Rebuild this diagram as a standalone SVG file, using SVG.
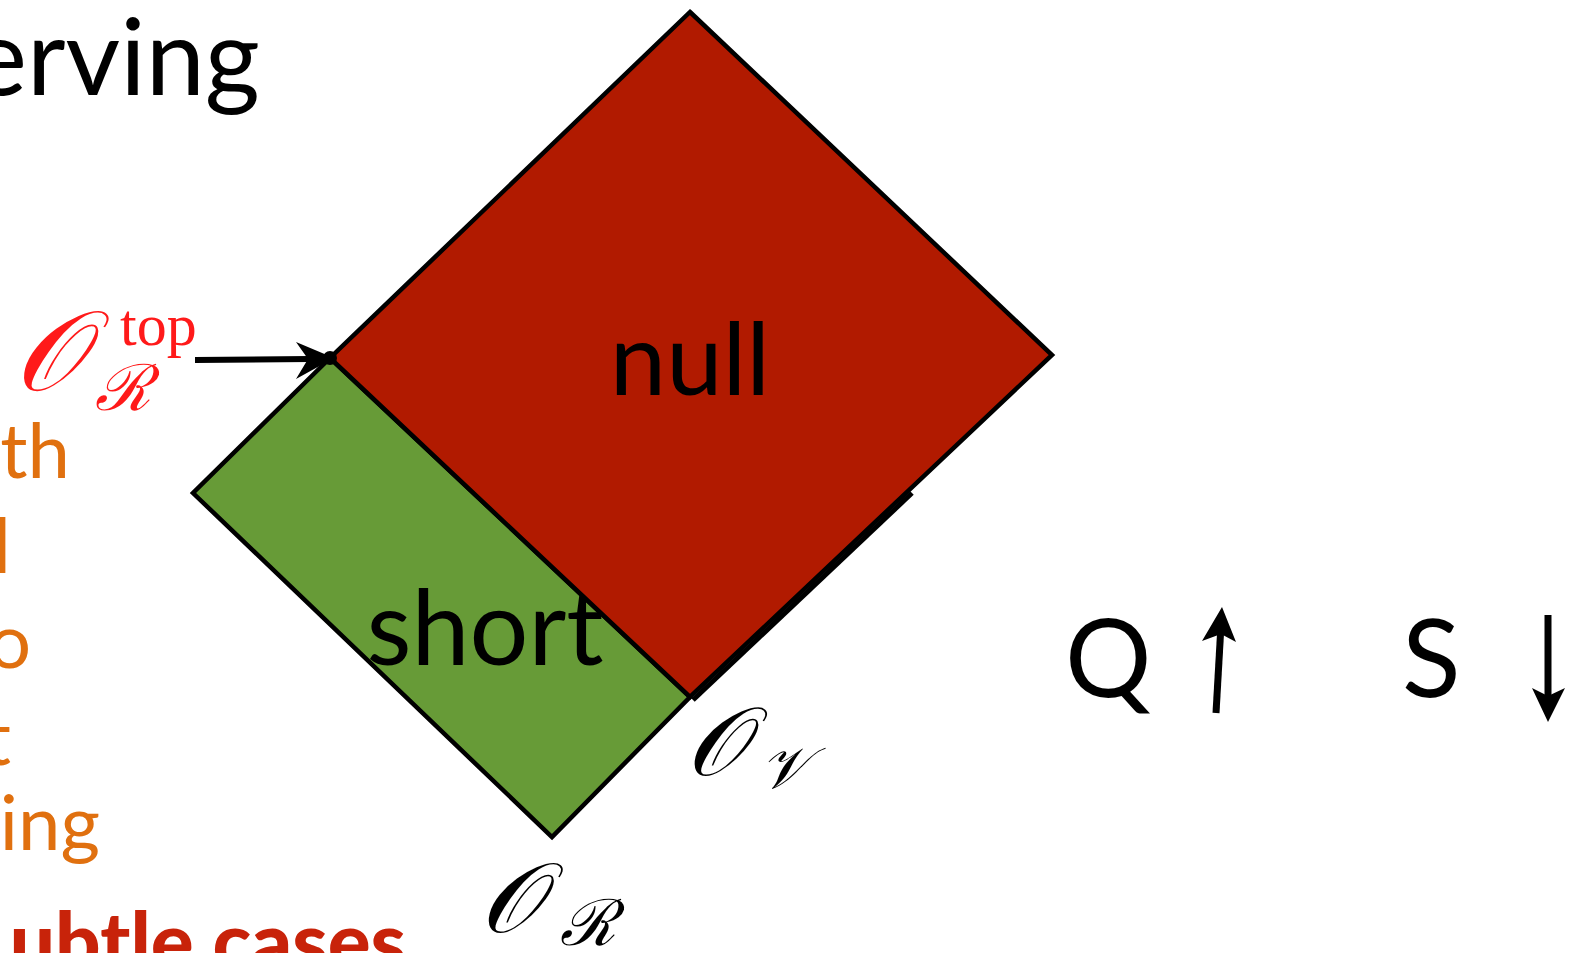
<svg xmlns="http://www.w3.org/2000/svg" width="1572" height="953" viewBox="0 0 1572 953">
<style>
.gs{font-family:Lato,"Open Sans","Liberation Sans",sans-serif}
.math{font-family:"DejaVu Serif","Liberation Serif",serif;font-style:italic}
.orange{fill:#E0700F}
.edge{stroke:#000;stroke-width:4.5;stroke-linejoin:miter}
</style>
<rect width="1572" height="953" fill="#fff"/>
<text class="gs" x="260" y="95" font-size="106" text-anchor="end" fill="#000">erving</text>
<g class="gs orange" font-size="76" text-anchor="end">
<text x="70" y="478">th</text>
<text x="11" y="573">l</text>
<text x="31" y="668">o</text>
<text x="11" y="765">t</text>
<text x="100" y="850">ing</text>
</g>
<text class="gs" x="425" y="970" font-size="80" font-weight="900" text-anchor="end" fill="#C8230A">ubtle cases.</text>
<g id="short">
<polygon points="330,358 690,697 552,837 193,493" fill="#679B37" class="edge"/>
<text class="gs" x="485" y="665" font-size="104" text-anchor="middle" fill="#000">short</text>
</g>
<g id="null">
<polygon points="690,12 1052,355 690,697 330,358" fill="#B11A00" class="edge"/>
<text class="gs" x="690" y="395" font-size="101" text-anchor="middle" fill="#000">null</text>
</g>
<g id="connectors">
<line x1="693" y1="700" x2="912" y2="493" stroke="#000" stroke-width="5"/>
<line x1="195" y1="360" x2="310" y2="359" stroke="#000" stroke-width="6"/>
<polygon points="334,358 296,342 308,359 296,379" fill="#000"/>
<circle cx="330" cy="358" r="7" fill="#000"/>
</g>
<g id="label-top" fill="#FF1A1A">
<text class="math" x="14" y="390" font-size="112">𝒪</text>
<text x="120" y="345" font-size="60" font-family="'Liberation Serif','DejaVu Serif',serif">top</text>
<text class="math" x="95" y="410" font-size="64">ℛ</text>
</g>
<g id="label-v" fill="#000">
<text class="math" x="686" y="775" font-size="96">𝒪</text>
<text class="math" x="760" y="788" font-size="58">𝒱</text>
</g>
<g id="label-r" fill="#000">
<text class="math" x="480" y="932" font-size="98">𝒪</text>
<text class="math" x="560" y="945" font-size="64">ℛ</text>
</g>
<g id="qs" fill="#000">
<text class="gs" x="1065" y="697" font-size="108">Q</text>
<text class="gs" x="1402" y="697" font-size="108">S</text>
<line x1="1216" y1="713" x2="1221" y2="625" stroke="#000" stroke-width="7"/>
<polygon points="1222,607 1236,642 1221,634 1202,641" fill="#000"/>
<line x1="1548" y1="615" x2="1548" y2="700" stroke="#000" stroke-width="7"/>
<polygon points="1548,722 1532,688 1548,696 1565,688" fill="#000"/>
</g>
</svg>
